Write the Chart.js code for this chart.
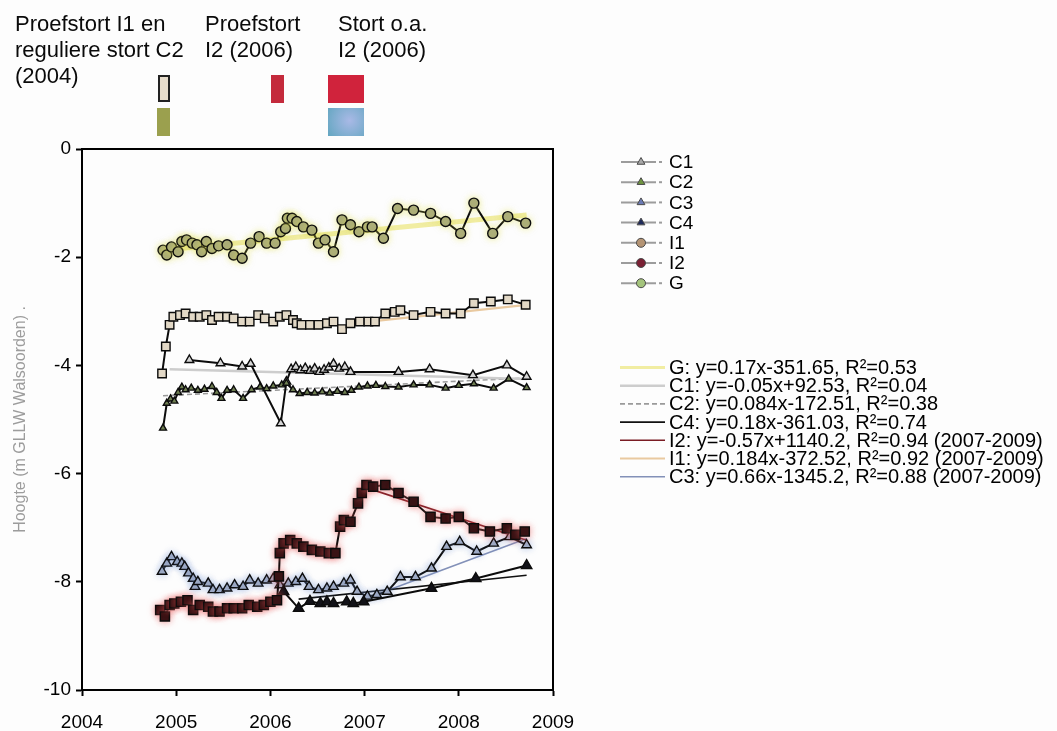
<!DOCTYPE html>
<html>
<head>
<meta charset="utf-8">
<script src="https://cdn.jsdelivr.net/npm/chart.js@4.4.1/dist/chart.umd.min.js"></script>
<style>
  body { margin: 0; background: #fdfdfd; font-family: 'Liberation Sans', Arial, sans-serif; }
  #wrap { position: relative; width: 1057px; height: 731px; overflow: hidden; }
  #grafiek { position: absolute; left: 0; top: 0; }
  .kop { position: absolute; font-size: 22px; line-height: 26px; color: #0a0a0a; white-space: nowrap; }
  .vlak { position: absolute; box-sizing: border-box; }
</style>
</head>
<body>
<div id="wrap">
  <canvas id="grafiek" width="1057" height="731"></canvas>
  <div class="kop" style="left:15px;top:11px">Proefstort I1 en<br>reguliere stort C2<br>(2004)</div>
  <div class="kop" style="left:205px;top:11px">Proefstort<br>I2 (2006)</div>
  <div class="kop" style="left:338px;top:11px">Stort o.a.<br>I2 (2006)</div>
  <div class="vlak" style="left:158px;top:75px;width:12px;height:27px;background:#e6dccb;border:2px solid #222"></div>
  <div class="vlak" style="left:157px;top:108px;width:13px;height:28px;background:#9ba04e"></div>
  <div class="vlak" style="left:271px;top:75px;width:13px;height:28px;background:#c42a3c"></div>
  <div class="vlak" style="left:328px;top:75px;width:36px;height:28px;background:#d0233c"></div>
  <div class="vlak" style="left:328px;top:108px;width:36px;height:28px;background:radial-gradient(circle at 60% 45%, #a9b9e6, #62a6c0)"></div>
</div>
<script>
// hoogtemetingen per raai: jaar (decimaal) en hoogte in m GLLW
const gJaren = [2004.86, 2004.90, 2004.95, 2005.02, 2005.06, 2005.11, 2005.17, 2005.22, 2005.27, 2005.32, 2005.38, 2005.45, 2005.54, 2005.61, 2005.70, 2005.79, 2005.88, 2005.96, 2006.05, 2006.11, 2006.16, 2006.18, 2006.23, 2006.28, 2006.35, 2006.44, 2006.51, 2006.58, 2006.67, 2006.76, 2006.85, 2006.94, 2007.03, 2007.08, 2007.20, 2007.35, 2007.52, 2007.70, 2007.86, 2008.02, 2008.16, 2008.36, 2008.52, 2008.71];
const gHoogte = [-1.87, -1.96, -1.81, -1.90, -1.71, -1.68, -1.74, -1.77, -1.90, -1.71, -1.84, -1.79, -1.77, -1.96, -2.02, -1.74, -1.62, -1.74, -1.74, -1.53, -1.47, -1.28, -1.28, -1.34, -1.44, -1.50, -1.74, -1.68, -1.90, -1.31, -1.40, -1.53, -1.44, -1.44, -1.65, -1.10, -1.13, -1.19, -1.34, -1.56, -1.00, -1.56, -1.25, -1.37];

const i1Jaren = [2004.85, 2004.89, 2004.93, 2004.97, 2005.04, 2005.10, 2005.18, 2005.25, 2005.32, 2005.38, 2005.45, 2005.54, 2005.61, 2005.70, 2005.78, 2005.87, 2005.94, 2006.03, 2006.10, 2006.17, 2006.24, 2006.28, 2006.33, 2006.42, 2006.51, 2006.60, 2006.67, 2006.76, 2006.85, 2006.95, 2007.04, 2007.11, 2007.22, 2007.32, 2007.38, 2007.52, 2007.70, 2007.86, 2008.02, 2008.16, 2008.34, 2008.52, 2008.71];
const i1Hoogte = [-4.15, -3.65, -3.25, -3.10, -3.07, -3.04, -3.10, -3.10, -3.07, -3.16, -3.10, -3.10, -3.13, -3.19, -3.19, -3.07, -3.13, -3.19, -3.10, -3.07, -3.16, -3.22, -3.25, -3.25, -3.25, -3.22, -3.19, -3.33, -3.22, -3.19, -3.19, -3.19, -3.04, -3.01, -2.98, -3.07, -3.01, -3.04, -3.04, -2.85, -2.82, -2.78, -2.88];

const c1Jaren = [2005.14, 2005.47, 2005.70, 2005.79, 2006.11, 2006.17, 2006.22, 2006.27, 2006.32, 2006.37, 2006.42, 2006.47, 2006.52, 2006.57, 2006.62, 2006.67, 2006.73, 2006.79, 2006.85, 2007.36, 2007.69, 2008.15, 2008.51, 2008.72];
const c1Hoogte = [-3.90, -3.96, -4.02, -3.97, -5.07, -4.30, -4.07, -4.03, -4.09, -4.05, -4.10, -4.06, -4.12, -4.08, -4.04, -3.97, -4.06, -4.03, -4.12, -4.12, -4.07, -4.18, -4.00, -4.21];

const c2Jaren = [2004.86, 2004.90, 2004.94, 2004.98, 2005.02, 2005.06, 2005.10, 2005.16, 2005.23, 2005.30, 2005.38, 2005.43, 2005.48, 2005.54, 2005.61, 2005.71, 2005.80, 2005.89, 2005.96, 2006.03, 2006.12, 2006.17, 2006.24, 2006.31, 2006.39, 2006.47, 2006.55, 2006.63, 2006.71, 2006.79, 2006.86, 2006.94, 2007.03, 2007.12, 2007.22, 2007.36, 2007.52, 2007.69, 2007.86, 2008.00, 2008.16, 2008.37, 2008.53, 2008.72];
const c2Hoogte = [-5.16, -4.70, -4.62, -4.66, -4.50, -4.40, -4.45, -4.42, -4.46, -4.44, -4.39, -4.50, -4.61, -4.46, -4.45, -4.61, -4.45, -4.40, -4.43, -4.38, -4.36, -4.33, -4.45, -4.52, -4.50, -4.51, -4.49, -4.51, -4.48, -4.50, -4.46, -4.40, -4.38, -4.37, -4.39, -4.40, -4.36, -4.36, -4.42, -4.37, -4.34, -4.42, -4.25, -4.41];

const c3Jaren = [2004.85, 2004.90, 2004.95, 2005.01, 2005.06, 2005.09, 2005.13, 2005.18, 2005.20, 2005.23, 2005.34, 2005.39, 2005.46, 2005.54, 2005.62, 2005.71, 2005.78, 2005.87, 2005.96, 2006.03, 2006.10, 2006.19, 2006.27, 2006.34, 2006.41, 2006.51, 2006.60, 2006.67, 2006.78, 2006.85, 2006.92, 2007.03, 2007.13, 2007.24, 2007.38, 2007.54, 2007.71, 2007.87, 2008.01, 2008.19, 2008.37, 2008.54, 2008.72];
const c3Hoogte = [-7.81, -7.66, -7.54, -7.63, -7.66, -7.72, -7.84, -7.94, -8.09, -8.00, -8.03, -8.15, -8.15, -8.12, -8.06, -8.09, -7.97, -8.03, -7.97, -7.94, -8.06, -8.03, -8.00, -7.94, -8.09, -8.15, -8.12, -8.09, -8.03, -7.97, -8.18, -8.27, -8.24, -8.18, -7.91, -7.91, -7.75, -7.35, -7.26, -7.44, -7.29, -7.17, -7.32];

const c4Jaren = [2006.14, 2006.30, 2006.42, 2006.53, 2006.60, 2006.67, 2006.81, 2006.88, 2006.99, 2007.71, 2008.18, 2008.72];
const c4Hoogte = [-8.18, -8.49, -8.36, -8.40, -8.37, -8.40, -8.37, -8.40, -8.37, -8.12, -7.94, -7.70];

const i2Jaren = [2004.83, 2004.88, 2004.93, 2004.98, 2005.05, 2005.12, 2005.18, 2005.25, 2005.34, 2005.39, 2005.46, 2005.54, 2005.61, 2005.70, 2005.77, 2005.86, 2005.93, 2006.00, 2006.07, 2006.09, 2006.10, 2006.14, 2006.21, 2006.28, 2006.35, 2006.44, 2006.53, 2006.62, 2006.69, 2006.74, 2006.78, 2006.85, 2006.93, 2006.97, 2007.02, 2007.09, 2007.22, 2007.36, 2007.52, 2007.70, 2007.86, 2008.00, 2008.16, 2008.33, 2008.51, 2008.60, 2008.70];
const i2Hoogte = [-8.52, -8.64, -8.43, -8.40, -8.37, -8.34, -8.52, -8.43, -8.46, -8.55, -8.55, -8.49, -8.49, -8.49, -8.43, -8.46, -8.43, -8.37, -8.34, -7.90, -7.47, -7.29, -7.23, -7.29, -7.35, -7.41, -7.44, -7.47, -7.47, -6.98, -6.86, -6.89, -6.55, -6.36, -6.21, -6.24, -6.21, -6.36, -6.52, -6.80, -6.83, -6.80, -7.01, -7.07, -7.01, -7.13, -7.07];

// trendlijnen: begin- en eindpunt
const gTrendJaren = [2004.85, 2008.72], gTrendHoogte = [-1.87, -1.22];
const c1TrendJaren = [2004.93, 2008.72], c1TrendHoogte = [-4.07, -4.25];
const c2TrendJaren = [2004.86, 2008.72], c2TrendHoogte = [-4.56, -4.23];
const c4TrendJaren = [2006.30, 2008.72], c4TrendHoogte = [-8.32, -7.88];
const i2TrendJaren = [2007.00, 2008.72], i2TrendHoogte = [-6.25, -7.23];
const i1TrendJaren = [2007.00, 2008.72], i1TrendHoogte = [-3.20, -2.88];
const c3TrendJaren = [2007.00, 2008.72], c3TrendHoogte = [-8.32, -7.20];

const reeksNamen = ['C1', 'C2', 'C3', 'C4', 'I1', 'I2', 'G'];
const trendTeksten = [
  'G: y=0.17x-351.65, R²=0.53',
  'C1: y=-0.05x+92.53, R²=0.04',
  'C2: y=0.084x-172.51, R²=0.38',
  'C4: y=0.18x-361.03, R²=0.74',
  'I2: y=-0.57x+1140.2, R²=0.94 (2007-2009)',
  'I1: y=0.184x-372.52, R²=0.92 (2007-2009)',
  'C3: y=0.66x-1345.2, R²=0.88 (2007-2009)'
];
const jaarTicks = [2004, 2005, 2006, 2007, 2008, 2009];
const hoogteTicks = [0, -2, -4, -6, -8, -10];

const punten = (jaren, hoogte) => jaren.map((x, i) => ({ x: x, y: hoogte[i] }));

const FONT = "'Liberation Sans', Arial, sans-serif";
Chart.defaults.font.family = FONT;
Chart.defaults.color = '#000';

function reeks(label, data, stijl, radius, vulling, extra) {
  return Object.assign({
    label: label,
    data: data,
    showLine: true,
    borderColor: '#0c0c0c',
    borderWidth: 2,
    pointStyle: stijl,
    pointRadius: radius,
    pointBackgroundColor: vulling,
    pointBorderColor: '#0c0c0c',
    pointBorderWidth: 1.4,
    backgroundColor: vulling
  }, extra || {});
}

function trend(label, data, kleur, dikte, streep) {
  return {
    label: label,
    data: data,
    trend: true,
    showLine: true,
    borderColor: kleur,
    borderWidth: dikte,
    borderDash: streep || [],
    pointRadius: 0
  };
}

// eerste dataset ligt bovenop
const datasets = [
  reeks('I2', punten(i2Jaren, i2Hoogte), 'rect', 6.5, '#1e080a', { glow: 'rgba(235,95,95,0.6)', legendKleur: '#7a2034' }),
  reeks('C4', punten(c4Jaren, c4Hoogte), 'triangle', 6, '#121218', { legendKleur: '#1e2a5a' }),
  reeks('C3', punten(c3Jaren, c3Hoogte), 'triangle', 5.5, '#a4aec4', { glow: 'rgba(120,150,210,0.45)', legendKleur: '#6a7ab4' }),
  reeks('C2', punten(c2Jaren, c2Hoogte), 'triangle', 4, '#6f7f52', { legendKleur: '#6f9440' }),
  reeks('C1', punten(c1Jaren, c1Hoogte), 'triangle', 5, '#d6d6d6', { legendKleur: '#a8a8a8' }),
  reeks('I1', punten(i1Jaren, i1Hoogte), 'rect', 6, '#e2d8c6', { legendKleur: '#b49474' }),
  reeks('G', punten(gJaren, gHoogte), 'circle', 5, '#a6a87c', { glow: 'rgba(225,225,90,0.55)', legendKleur: '#a4c47c' }),
  trend(trendTeksten[0], punten(gTrendJaren, gTrendHoogte), '#f1eda2', 5),
  trend(trendTeksten[1], punten(c1TrendJaren, c1TrendHoogte), '#cdcdcd', 2.5),
  trend(trendTeksten[2], punten(c2TrendJaren, c2TrendHoogte), '#9a9a9a', 1.6, [5, 3]),
  trend(trendTeksten[3], punten(c4TrendJaren, c4TrendHoogte), '#111111', 1.6),
  trend(trendTeksten[4], punten(i2TrendJaren, i2TrendHoogte), '#7a1c24', 1.6),
  trend(trendTeksten[5], punten(i1TrendJaren, i1TrendHoogte), '#e9c9a0', 2.2),
  trend(trendTeksten[6], punten(c3TrendJaren, c3TrendHoogte), '#8391b8', 1.6)
];

const gloed = {
  id: 'gloed',
  beforeDatasetDraw(chart, args) {
    const ds = chart.data.datasets[args.index];
    if (!ds.glow) return;
    chart.ctx.save();
    chart.ctx.shadowColor = ds.glow;
    chart.ctx.shadowBlur = 7;
  },
  afterDatasetDraw(chart, args) {
    if (chart.data.datasets[args.index].glow) chart.ctx.restore();
  }
};

const kader = {
  id: 'kader',
  afterDatasetsDraw(chart) {
    const a = chart.chartArea, ctx = chart.ctx;
    ctx.save();
    ctx.strokeStyle = '#000';
    ctx.lineWidth = 2;
    ctx.strokeRect(a.left, a.top, a.right - a.left, a.bottom - a.top);
    ctx.restore();
  }
};

const zijLegenda = {
  id: 'zijLegenda',
  afterDraw(chart) {
    const ctx = chart.ctx;
    ctx.save();
    ctx.textBaseline = 'middle';
    // meetreeksen
    ctx.font = '19px ' + FONT;
    reeksNamen.forEach((naam, i) => {
      const ds = chart.data.datasets.find(d => d.label === naam);
      const y = 162 + i * 20.2;
      ctx.setLineDash([]);
      ctx.strokeStyle = '#9c9c9c';
      ctx.lineWidth = 2;
      ctx.beginPath(); ctx.moveTo(621, y); ctx.lineTo(656, y); ctx.stroke();
      ctx.beginPath(); ctx.moveTo(659, y); ctx.lineTo(662, y); ctx.stroke();
      ctx.fillStyle = ds.legendKleur;
      ctx.strokeStyle = '#4a4a4a';
      ctx.lineWidth = 1;
      Chart.helpers.drawPoint(ctx, { pointStyle: ds.label.startsWith('C') ? 'triangle' : 'circle', radius: 4.5, rotation: 0, borderWidth: 1 }, 641, y);
      ctx.fillStyle = '#000';
      ctx.fillText(naam, 669, y + 1);
    });
    // trendlijnen
    ctx.font = '20px ' + FONT;
    chart.data.datasets.filter(d => d.trend).forEach((ds, i) => {
      const y = 367.5 + i * 18.2;
      ctx.strokeStyle = ds.borderColor;
      ctx.lineWidth = Math.min(ds.borderWidth, 3);
      ctx.setLineDash(ds.borderDash);
      ctx.beginPath(); ctx.moveTo(620, y); ctx.lineTo(665, y); ctx.stroke();
      ctx.fillStyle = '#000';
      ctx.fillText(ds.label, 669, y + 1);
    });
    ctx.restore();
  }
};

new Chart(document.getElementById('grafiek'), {
  type: 'scatter',
  data: { datasets: datasets },
  plugins: [gloed, kader, zijLegenda],
  options: {
    responsive: false,
    animation: false,
    events: [],
    devicePixelRatio: 1,
    layout: { padding: { left: 0, top: 149, right: 504, bottom: 0 } },
    plugins: { legend: { display: false }, tooltip: { enabled: false } },
    scales: {
      x: {
        type: 'linear',
        min: jaarTicks[0],
        max: jaarTicks[jaarTicks.length - 1],
        afterBuildTicks(scale) { scale.ticks = jaarTicks.map(v => ({ value: v })); },
        afterFit(scale) { scale.height = 41; },
        ticks: { font: { size: 19 }, padding: 15, color: '#000', callback: v => String(v) },
        grid: { drawOnChartArea: false, tickLength: 6, tickColor: '#000', tickWidth: 2 },
        border: { color: '#000', width: 2 }
      },
      y: {
        min: hoogteTicks[hoogteTicks.length - 1],
        max: hoogteTicks[0],
        afterBuildTicks(scale) { scale.ticks = hoogteTicks.slice().reverse().map(v => ({ value: v })); },
        afterFit(scale) { scale.width = 82; },
        ticks: { font: { size: 19 }, padding: 5, color: '#000', callback: v => String(v) },
        grid: { drawOnChartArea: false, tickLength: 6, tickColor: '#000', tickWidth: 2 },
        border: { color: '#000', width: 2 },
        title: {
          display: true,
          text: 'Hoogte (m GLLW Walsoorden) .',
          color: '#9c9c9c',
          font: { size: 16 },
          padding: { top: 11, bottom: 0 }
        }
      }
    }
  }
});
</script>
</body>
</html>
